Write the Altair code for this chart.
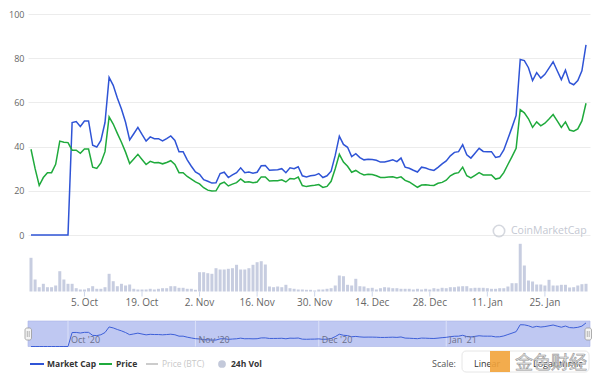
import altair as alt
import pandas as pd

# ---------------- data ----------------
start_date = "2020-09-22"

market_cap = [0, 0, 0, 0, 0, 0, 0, 0, 0, 0,
              50.9, 51.3, 49.1, 51.6, 51.6, 40.6, 39.8, 42.8, 50.9, 71.3,
              67.7, 62, 57, 51, 43, 45.8, 48.7, 45.5, 42.5, 44.4,
              43.6, 43.6, 42.6, 43.6, 44.8, 42.8, 37.7, 37.7, 34, 31.1,
              28.5, 27.5, 25, 24.3, 23.5, 23.6, 27.8, 28.4, 26, 27.2,
              28.2, 30.4, 28.2, 28.5, 28, 28.4, 31.3, 31.4, 29.3, 29.4,
              29.5, 30, 28.2, 30.4, 30, 30.9, 26.8, 26.3, 26.8, 27,
              27.8, 26, 26.8, 28.9, 36, 44.7, 41, 39.7, 35.5, 36.8,
              35, 34, 34.3, 34.2, 33.8, 33, 33, 33.5, 34, 33.2,
              34.8, 30.7, 30.2, 29.3, 28.5, 30.7, 30.3, 29.6, 29.2, 30.6,
              32.2, 33.5, 35.8, 37.4, 37.7, 40.9, 36.3, 34.8, 37, 39.2,
              37.8, 37.7, 37.7, 35.1, 35.5, 38.5, 43.6, 48.7, 54.1, 79.4,
              78.9, 75.7, 69.9, 73.5, 71, 72.7, 75.5, 78.4, 74.3, 70.3,
              74.6, 68.9, 68, 69.9, 74.3, 86]

price = [38.8, 30, 22.4, 26, 28.2, 28.2, 32, 42.5, 42, 41.8,
         38.4, 38.4, 37, 38.9, 38.9, 30.7, 30.1, 32.6, 37.7, 53.5,
         50.2, 46, 42, 37.5, 32.3, 34.4, 36.5, 34.2, 31.9, 33.3,
         32.7, 32.8, 32.2, 32.8, 33.6, 31.9, 28.2, 28.2, 26.5, 25.3,
         24, 23.1, 21.4, 20.3, 19.9, 20, 23.1, 23.9, 22.2, 23,
         23.7, 25.4, 23.9, 24.1, 23.6, 24, 26.3, 26.3, 24.4, 24.5,
         24.6, 25, 24, 25.6, 25.3, 26.2, 22.4, 21.9, 22.3, 22.5,
         22.8, 21.5, 22, 24.3, 30, 36.5, 33, 31.1, 28.4, 29.2,
         28, 27.2, 27.5, 27.4, 26.8, 26, 26, 26.2, 26.3, 25.8,
         26.3, 24.7, 24, 22.8, 21.6, 22.6, 22.7, 22.5, 22.4, 23.4,
         23.8, 24.8, 26.8, 27.8, 28.2, 30.7, 26.8, 25.8, 27, 28.2,
         27.2, 27.2, 27.2, 25.3, 25.8, 28.2, 31.9, 35.5, 39.2, 56.7,
         55.3, 52.6, 48.7, 51.2, 49.4, 50.6, 52.5, 54.5, 51.6, 48.7,
         51.2, 47.5, 47, 48, 51.6, 59.6]

volume = [33.7, 12, 4.3, 7.7, 4.3, 4.3, 6, 20.3, 12, 7.7,
          7.7, 3.3, 2, 2, 3.3, 5.3, 2.7, 2.7, 4.3, 17.7,
          10.3, 5.3, 7.7, 6, 7, 2.7, 2, 2, 2, 2.7,
          2, 2.7, 3.3, 3.3, 5.3, 5.3, 3.7, 3.7, 2.7, 2.7,
          1.7, 19.3, 19.3, 18.3, 17.7, 23.3, 22, 22, 22.7, 23.3,
          26.7, 22, 22, 23.3, 26.7, 29.3, 30.3, 27, 5, 4.3,
          5, 4.3, 6.7, 3.3, 2.7, 2, 2, 1.7, 1.7, 1,
          2, 2, 2.7, 3.3, 6, 16, 15.3, 6.7, 6, 12.7,
          5.3, 5, 3.3, 3.7, 2, 3.3, 4.3, 4, 3.3, 3.3,
          2.7, 2.7, 2.7, 2, 2.7, 2, 2.7, 2, 3.3, 2.7,
          3.7, 3.3, 4.3, 4.3, 5, 5.3, 5.3, 3.3, 3.7, 3.7,
          3.7, 3.3, 2.7, 2.7, 3.3, 3.3, 5, 8.3, 8.3, 47.7,
          26, 11, 10, 7, 7, 6, 11.7, 6, 6, 6.7,
          6.7, 4, 4.3, 6, 7.3, 7.7]

tick_dates = ["2020-10-05", "2020-10-19", "2020-11-02", "2020-11-16", "2020-11-30",
              "2020-12-14", "2020-12-28", "2021-01-11", "2021-01-25"]
tick_labels = ["5. Oct", "19. Oct", "2. Nov", "16. Nov", "30. Nov",
               "14. Dec", "28. Dec", "11. Jan", "25. Jan"]

month_dates = ["2020-10-01", "2020-11-01", "2020-12-01", "2021-01-01"]
month_labels = ["Oct '20", "Nov '20", "Dec '20", "Jan '21"]

y_ticks = [0, 20, 40, 60, 80, 100]

# ---------------- tables ----------------
dates = pd.date_range(start_date, periods=len(market_cap), freq="D").strftime("%Y-%m-%d")
df = pd.DataFrame({"date": dates, "market_cap": market_cap, "price": price, "volume": volume})
ticks_df = pd.DataFrame({"date": tick_dates, "label": tick_labels})
months_df = pd.DataFrame({"date": month_dates, "label": month_labels})
one = pd.DataFrame({"k": [0]})

# ---------------- layout constants ----------------
W = 562
H = 358
FONT = "Open Sans"
MAIN_BOTTOM = 221
VOL_BASE = 277.5
NAV_TOP, NAV_BOT = 307, 332.5
LEG_Y = 350

t0 = pd.Timestamp(start_date, tz="UTC") - pd.Timedelta(hours=17.5)
t1 = pd.Timestamp(start_date, tz="UTC") + pd.Timedelta(days=135.97)
xdom = [int(t0.value // 10**6), int(t1.value // 10**6)]
xs = alt.Scale(type="utc", domain=xdom, padding=0)
X = alt.X("date:T", scale=xs, axis=None)

BLUE = "#2f54d6"
GREEN = "#1faa3c"

base = alt.Chart(df)

main_axis = alt.Axis(values=y_ticks, grid=True, gridColor="#ececec", domain=False, ticks=False, tickSize=0,
                     labelColor="#666666", labelFontSize=9, labelFont=FONT, labelPadding=4, title=None)

cap_line = base.mark_line(color=BLUE, strokeWidth=1.5).encode(
    x=X, y=alt.Y("market_cap:Q", scale=alt.Scale(domain=[0, 100], range=[MAIN_BOTTOM, 0]), axis=main_axis))
price_line = base.mark_line(color=GREEN, strokeWidth=1.5).encode(
    x=X, y=alt.Y("price:Q", scale=alt.Scale(domain=[0, 100], range=[MAIN_BOTTOM, 0]), axis=None))

vol_bars = base.mark_bar(color="#c7cde0", size=3).encode(
    x=X, y=alt.Y("volume:Q", scale=alt.Scale(domain=[0, 50], range=[VOL_BASE, VOL_BASE - 50]), axis=None))

vol_ticks = alt.Chart(ticks_df).mark_rule(color="#ccd6eb").encode(
    x=X, y=alt.value(VOL_BASE), y2=alt.value(VOL_BASE + 5))
vol_labels = alt.Chart(ticks_df).mark_text(font=FONT, fontSize=10, color="#666666", baseline="middle").encode(
    x=X, y=alt.value(VOL_BASE + 11), text="label:N")

# navigator
nav_bg = alt.Chart(one).mark_rect(color="#bfc8f2", stroke="#aab4e6", strokeWidth=0.6).encode(
    x=alt.value(0), x2=alt.value(W), y=alt.value(NAV_TOP), y2=alt.value(NAV_BOT))
nav_grid = alt.Chart(months_df).mark_rule(color="#dbe0f8", strokeWidth=1).encode(
    x=X, y=alt.value(NAV_TOP), y2=alt.value(NAV_BOT))
nav_line = base.mark_line(color="#3d5fd8", strokeWidth=1).encode(
    x=X, y=alt.Y("market_cap:Q", scale=alt.Scale(domain=[0, 93], range=[NAV_BOT, NAV_TOP]), axis=None))
nav_labels = alt.Chart(months_df).mark_text(font=FONT, fontSize=9, color="#6b6f8a", align="left",
                                            baseline="middle", dx=3).encode(
    x=X, y=alt.value(NAV_BOT - 7), text="label:N")
handles = alt.Chart(pd.DataFrame({"x": [-3, W - 5]})).mark_rect(
    fill="#f4f4f4", stroke="#999999", strokeWidth=0.8, cornerRadius=2).encode(
    x=alt.X("x:Q", scale=None), x2=alt.X2("x2:Q"), y=alt.value(NAV_TOP + 7), y2=alt.value(NAV_TOP + 19)
).transform_calculate(x2="datum.x + 6.5")
handle_grips = alt.Chart(pd.DataFrame({"x": [-0.7, 1.2, W - 2.7, W - 0.8]})).mark_rule(
    color="#999999", strokeWidth=0.7).encode(
    x=alt.X("x:Q", scale=None), y=alt.value(NAV_TOP + 10), y2=alt.value(NAV_TOP + 16))

# legend
def seg(x1, x2, color):
    return alt.Chart(one).mark_rule(color=color, strokeWidth=2).encode(
        x=alt.value(x1), x2=alt.value(x2), y=alt.value(LEG_Y), y2=alt.value(LEG_Y))

def label(x, txt, color="#333333", bold=True, size=8.5):
    return alt.Chart(one).mark_text(font=FONT, fontSize=size, color=color, align="left", baseline="middle",
                                    fontWeight="bold" if bold else "normal", text=txt).encode(
        x=alt.value(x), y=alt.value(LEG_Y))

legend = [
    seg(2, 16, BLUE), label(19, "Market Cap"),
    seg(71, 84, GREEN), label(88, "Price"),
    seg(118, 130, "#cccccc"), label(134, "Price (BTC)", color="#c8c8c8", bold=False),
    alt.Chart(one).mark_point(filled=True, color="#c3c9da", size=60, opacity=1).encode(
        x=alt.value(194), y=alt.value(LEG_Y)),
    label(203, "24h Vol"),
    label(404, "Scale:", color="#555555", bold=False, size=9),
    alt.Chart(one).mark_rect(fill="white", stroke="#e6e6e6", cornerRadius=4).encode(
        x=alt.value(434), x2=alt.value(561), y=alt.value(LEG_Y - 13), y2=alt.value(H)),
    label(446, "Linear", color="#333333", bold=False, size=9),
    label(505, "Logarithmic", color="#333333", bold=False, size=9),
]

# watermarks
cmc = alt.Chart(one).mark_text(font=FONT, fontSize=10.5, color="#c4c8d2", align="left", baseline="middle",
                               text="CoinMarketCap").encode(x=alt.value(483), y=alt.value(MAIN_BOTTOM - 4))
cmc_logo = alt.Chart(one).mark_point(color="#c4c8d2", size=130, strokeWidth=1.6).encode(
    x=alt.value(471), y=alt.value(MAIN_BOTTOM - 4))
jinse_logo = alt.Chart(one).mark_rect(color="#f2a33a", opacity=0.9).encode(
    x=alt.value(462), x2=alt.value(482), y=alt.value(LEG_Y - 13), y2=alt.value(LEG_Y + 8))
jinse = alt.Chart(one).mark_text(font="Noto Sans CJK SC", fontSize=18, color="#e4e4e4", stroke="#9a9a9a",
                                 strokeWidth=0.6, align="left", baseline="middle", text="金色财经").encode(
    x=alt.value(487), y=alt.value(LEG_Y))

chart = alt.layer(
    vol_bars, vol_ticks, vol_labels,
    cap_line, price_line,
    nav_bg, nav_grid, nav_line, nav_labels, handles, handle_grips,
    cmc_logo, cmc,
    *legend, jinse_logo, jinse,
).resolve_scale(y="independent").properties(
    width=W, height=H, padding={"top": 2, "left": 0, "right": 0, "bottom": 0}, background="white"
).configure_view(stroke=None)

chart.save("out.html", embed_options={"renderer": "svg", "actions": False})
